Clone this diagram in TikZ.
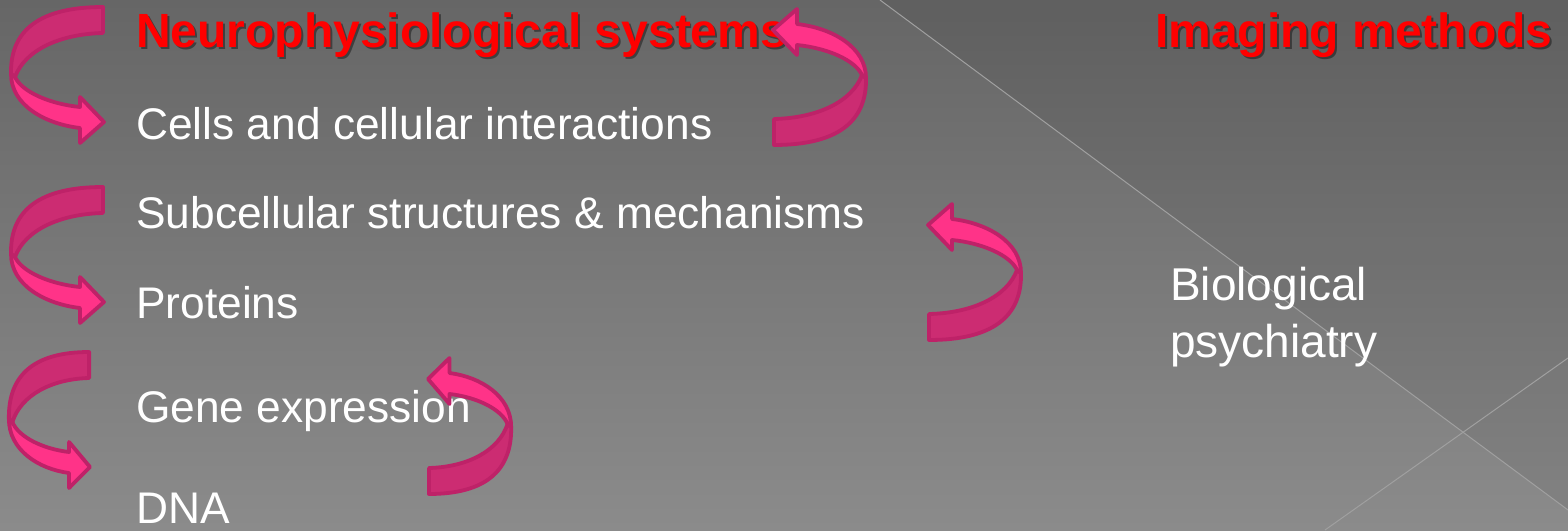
\documentclass[tikz,border=0pt]{standalone}
\usepackage{fontspec}
\setmainfont{Liberation Sans}
\definecolor{arrowdark}{RGB}{204,44,114}
\definecolor{arrowbright}{RGB}{255,51,136}
\definecolor{arrowline}{RGB}{190,34,104}
\definecolor{bgtop}{RGB}{102,102,102}
\definecolor{bgbot}{RGB}{139,139,139}
\definecolor{bgline}{RGB}{160,160,160}
\newcommand{\pinkturn}[1]{%
  \begin{scope}[#1]
    \path[bandback] (103,7) -- (103,33) .. controls (60,34) and (25,50) .. (15,77)
      -- (11,74) .. controls (10,30) and (40,7) .. (103,7) -- cycle;
    \path[bandfront] (15,77) -- (11,74) .. controls (11,105) and (45,124) .. (80,128)
      -- (80,143) -- (104,122) -- (80,97) -- (80,107)
      .. controls (50,104) and (22,92) .. (15,77) -- cycle;
  \end{scope}}
\tikzset{
  lbl/.style={text=white, font=\fontsize{44.3}{52}\selectfont, inner sep=0pt, anchor=base west},
  ttl/.style={text=red, font=\bfseries\fontsize{48}{56}\selectfont, inner sep=0pt, anchor=base west},
  ttlshadow/.style={text=black, text opacity=0.4, font=\bfseries\fontsize{48}{56}\selectfont, inner sep=0pt, anchor=base west},
  bandback/.style={fill=arrowdark, draw=arrowline, line width=3.8pt, line join=round},
  bandfront/.style={fill=arrowbright, draw=arrowline, line width=3.8pt, line join=round},
  bgstroke/.style={draw=bgline, line width=1pt}
}
\begin{document}
\begin{tikzpicture}[x=1pt, y=-1pt]
  % background
  \fill[top color=bgtop, bottom color=bgbot] (0,0) rectangle (1568,530);
  \useasboundingbox (0,0) rectangle (1568,530);
  \fill[black, opacity=0.06] (880,0) -- (1568,0) -- (1568,510) -- cycle;
  \draw[bgstroke] (880,0) -- (1568,510);
  \draw[bgstroke] (1325,530) -- (1568,358);

  % headings
  \node[ttlshadow] (t1s) at (137.8,49) {Neurophysiological systems};
  \node[ttl] (t1) at (136,47) {Neurophysiological systems};
  \node[ttlshadow] (t2s) at (1156.8,49) {Imaging methods};
  \node[ttl] (t2) at (1155,47) {Imaging methods};

  % left column
  \node[lbl] (cells) at (136,139) {Cells and cellular interactions};
  \node[lbl] (subc) at (136,228) {Subcellular structures \& mechanisms};
  \node[lbl] (prot) at (136,318) {Proteins};
  \node[lbl] (gene) at (136,422) {Gene expression};
  \node[lbl] (dna) at (136,523) {DNA};

  % right column
  \node[lbl, font=\fontsize{46}{57}\selectfont] (bio1) at (1170,300) {Biological};
  \node[lbl, font=\fontsize{46}{57}\selectfont] (bio2) at (1170,357) {psychiatry};

  % curved arrows
  \pinkturn{shift={(0,0)}}
  \pinkturn{shift={(0,180)}}
  \pinkturn{shift={(-0.7,345)}, xscale=0.872}
  \pinkturn{shift={(877,152)}, rotate=180}
  \pinkturn{shift={(1032,347)}, rotate=180}
  \pinkturn{shift={(521,501)}, rotate=180, xscale=0.894}
\end{tikzpicture}
\end{document}
